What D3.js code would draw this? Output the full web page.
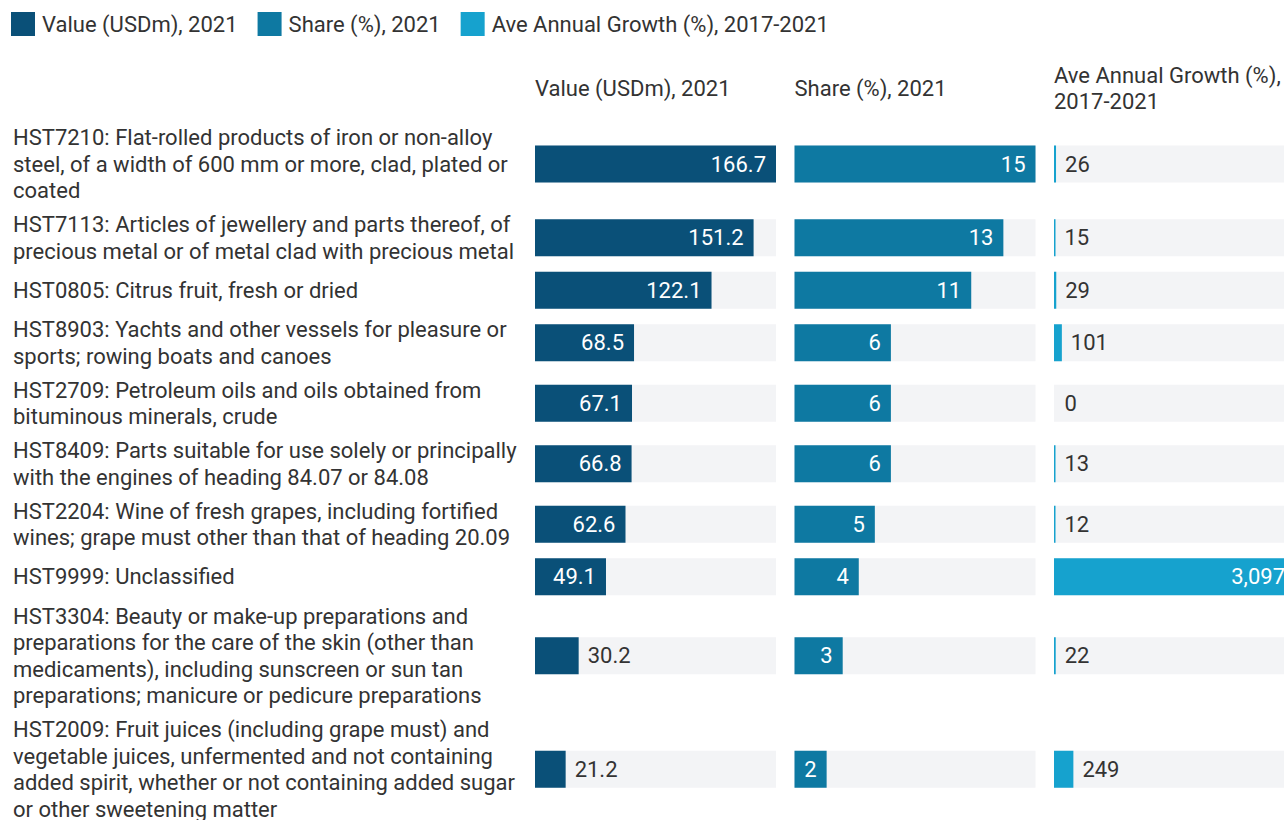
<!DOCTYPE html>
<html>
<head>
<meta charset="utf-8">
<script src="https://cdn.jsdelivr.net/npm/d3@7"></script>
<style>
  html, body { margin: 0; padding: 0; background: #fff; }
  svg { display: block; font-family: Roboto, "Noto Sans", sans-serif; }
</style>
</head>
<body>
<svg id="chart" width="1284" height="820"></svg>
<script>
// Product categories (label lines as wrapped in the row headers)
const categories = [
  ["HST7210: Flat-rolled products of iron or non-alloy", "steel, of a width of 600 mm or more, clad, plated or", "coated"],
  ["HST7113: Articles of jewellery and parts thereof, of", "precious metal or of metal clad with precious metal"],
  ["HST0805: Citrus fruit, fresh or dried"],
  ["HST8903: Yachts and other vessels for pleasure or", "sports; rowing boats and canoes"],
  ["HST2709: Petroleum oils and oils obtained from", "bituminous minerals, crude"],
  ["HST8409: Parts suitable for use solely or principally", "with the engines of heading 84.07 or 84.08"],
  ["HST2204: Wine of fresh grapes, including fortified", "wines; grape must other than that of heading 20.09"],
  ["HST9999: Unclassified"],
  ["HST3304: Beauty or make-up preparations and", "preparations for the care of the skin (other than", "medicaments), including sunscreen or sun tan", "preparations; manicure or pedicure preparations"],
  ["HST2009: Fruit juices (including grape must) and", "vegetable juices, unfermented and not containing", "added spirit, whether or not containing added sugar", "or other sweetening matter"]
];
const valueUSDm = [166.7, 151.2, 122.1, 68.5, 67.1, 66.8, 62.6, 49.1, 30.2, 21.2];
const sharePct = [15, 13, 11, 6, 6, 6, 5, 4, 3, 2];
const growthPct = [26, 15, 29, 101, 0, 13, 12, 3097, 22, 249];

const seriesNames = ["Value (USDm), 2021", "Share (%), 2021", "Ave Annual Growth (%), 2017-2021"];
const headerLines = [["Value (USDm), 2021"], ["Share (%), 2021"], ["Ave Annual Growth (%),", "2017-2021"]];
const colors = ["#0a5078", "#0e79a2", "#16a2ce"];

const svg = d3.select("#chart");
const FONT = 22, LINE = 26.5, BAR_H = 37, GAP = 7.5;

// Legend
const legend = svg.append("g");
let lx = 11;
seriesNames.forEach((name, i) => {
  const g = legend.append("g").attr("transform", `translate(${lx},12)`);
  g.append("rect").attr("width", 24).attr("height", 24).attr("fill", colors[i]);
  const t = g.append("text").attr("x", 31).attr("y", 12).attr("dy", "0.35em")
    .attr("font-size", FONT).attr("fill", "#333").text(name);
  lx += 31 + t.node().getComputedTextLength() + 20;
});

// Row layout: each row is as tall as its label block (or the bar), centered bar
const rowH = categories.map(c => Math.max(c.length * LINE, BAR_H));
const centers = [];
let c = 164;
rowH.forEach((h, i) => {
  if (i > 0) c += rowH[i - 1] / 2 + GAP + h / 2;
  centers.push(c);
});

// Row labels
const labels = svg.append("g");
categories.forEach((lines, i) => {
  const top = centers[i] - (lines.length - 1) * LINE / 2;
  const t = labels.append("text").attr("font-size", FONT).attr("fill", "#333");
  lines.forEach((ln, j) => {
    t.append("tspan").attr("x", 13).attr("y", top + j * LINE).attr("dy", "0.35em").text(ln);
  });
});

// Columns
const colX = [535, 794.5, 1054];
const colW = 241;
const columns = [
  { data: valueUSDm, fmt: d3.format(".1f") },
  { data: sharePct, fmt: d3.format(",") },
  { data: growthPct, fmt: d3.format(",") }
];

columns.forEach((col, k) => {
  const x = d3.scaleLinear().domain([0, d3.max(col.data)]).range([0, colW]);
  const g = svg.append("g").attr("transform", `translate(${colX[k]},0)`);

  // Header, vertically centred above the column
  const hl = headerLines[k];
  const ht = g.append("text").attr("font-size", FONT).attr("fill", "#333");
  hl.forEach((ln, j) => {
    ht.append("tspan").attr("x", 0).attr("y", 88 + (j - (hl.length - 1) / 2) * 26)
      .attr("dy", "0.35em").text(ln);
  });

  col.data.forEach((v, i) => {
    const y = centers[i] - BAR_H / 2;
    g.append("rect").attr("x", 0).attr("y", y).attr("width", colW).attr("height", BAR_H)
      .attr("fill", "#f3f4f6");
    const w = x(v);
    if (w > 0) {
      g.append("rect").attr("x", 0).attr("y", y).attr("width", Math.max(w, 1.5)).attr("height", BAR_H)
        .attr("fill", colors[k]);
    }
    const label = g.append("text").attr("font-size", FONT).attr("y", centers[i]).attr("dy", "0.35em")
      .text(col.fmt(v));
    const tw = label.node().getComputedTextLength();
    if (tw + 16 <= w) {
      label.attr("x", w - 10).attr("text-anchor", "end").attr("fill", "#fff");
    } else {
      label.attr("x", Math.max(w, 1.5) + 9).attr("fill", "#333");
    }
  });
});
</script>
</body>
</html>
